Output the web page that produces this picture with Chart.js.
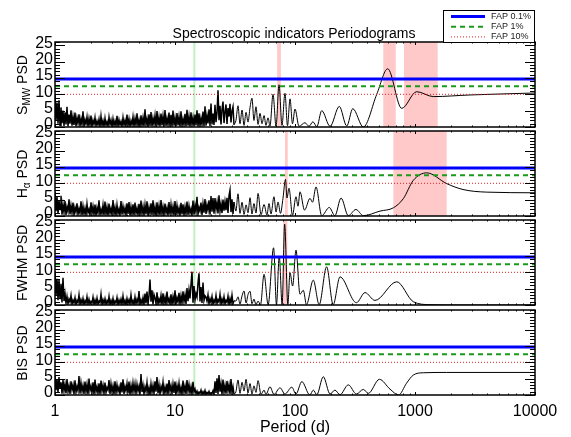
<!DOCTYPE html>
<html>
<head>
<meta charset="utf-8">
<script src="https://cdn.jsdelivr.net/npm/chart.js@4/dist/chart.umd.min.js"></script>
<style>
  body { margin: 0; background: #fff; }
  #wrap { position: relative; width: 571px; height: 437px; font-family: "Liberation Sans", Arial, sans-serif; color: #000; }
  #wrap canvas { position: absolute; left: 0; top: 0; }
  .txt { position: absolute; white-space: nowrap; text-align: center; }
  #title { left: 144px; width: 300px; top: 26px; font-size: 14px; line-height: 14px; }
  #xlab { left: 195px; width: 200px; top: 419px; font-size: 16px; line-height: 16px; }
  .ylab { width: 120px; height: 16px; font-size: 14px; line-height: 16px; left: -38px; transform: rotate(-90deg); }
  .ylab sub { font-size: 10px; vertical-align: -3px; line-height: 0; }
</style>
</head>
<body>
<div id="wrap">
  <canvas id="pSmw" width="571" height="437"></canvas>
  <canvas id="pHa" width="571" height="437"></canvas>
  <canvas id="pFwhm" width="571" height="437"></canvas>
  <canvas id="pBis" width="571" height="437"></canvas>
  <div id="title" class="txt">Spectroscopic indicators Periodograms</div>
  <div class="txt ylab" style="top:77px">S<sub>MW</sub> PSD</div>
  <div class="txt ylab" style="top:166px">H<sub>α</sub> PSD</div>
  <div class="txt ylab" style="top:255px">FWHM PSD</div>
  <div class="txt ylab" style="top:345px">BIS PSD</div>
  <div id="xlab" class="txt">Period (d)</div>
</div>
<script>
// false alarm probability levels (PSD units)
const fapNames = ['FAP 0.1%', 'FAP 1%', 'FAP 10%'];
const fapLevels = [14.7, 12.5, 10.0];

const yTicks = [0, 5, 10, 15, 20, 25];
const xTickLabels = [1, 10, 100, 1000, 10000];

// short-period part of each periodogram, sampled every 1/120 dex from 1 d
const noiseStepDex = 1 / 120;

const smwNoise = [
  9.8,2,7.5,1,8.2,0.5,6,1.2,5,0.3, 4.5,0.8,6.2,0.2,3.8,1,5.1,0.4,3.2,0.6,
  4.4,0.2,2.8,1.1,3.9,0.3,2.5,0.7,4.8,0.1, 2.2,0.9,3.1,0.2,2.6,0.5,3.5,0.1,2,0.8,
  2.9,0.3,1.8,0.6,2.4,0.1,3.3,0.4,1.9,0.2, 2.7,0.5,1.6,0.2,3,0.7,2.1,0.1,2.5,0.4,
  1.8,0.3,3.4,0.2,2.2,0.6,1.7,0.1,2.9,0.5, 2,0.2,3.8,0.4,2.4,0.1,1.9,0.6,3.1,0.2,
  2.6,0.5,4.2,0.3,2.1,0.1,3.6,0.4,2.8,0.2, 5.4,0.6,2.5,0.1,3.9,0.3,4.6,0.2,2.7,0.8,
  3.5,0.1,4.9,0.4,2.9,0.2,4.1,0.5,3.3,0.1, 5.2,0.3,2.6,0.6,4.4,0.2,3.7,0.1,5,0.4,
  2.8,0.2,4.3,0.5,3.1,0.1,4.8,0.3,2.4,0.6, 4,0.2,5.3,0.4,3.2,0.1,4.5,0.6,2.9,0.2,
  3.8,0.5,5.1,0.1,4.2,0.3,2.7,0.7,4.7,0.2, 6.3,0.4,3.5,1.1,5.4,0.3,7.2,0.8,4.1,0.6,
  6.8,1.5,4.3,11.2,2.1,6.5,0.8,5.3,7.8,1.2, 4.6,6.9,0.9,5.8,3.2,7.1,1.4,4.9,6.2,0.7
];
const haNoise = [
  7.4,1.5,5.8,0.6,4.9,2,6.2,0.4,3.5,1.1, 4.6,0.3,2.8,1.4,5.1,0.5,3.2,0.9,4.1,0.2,
  2.6,1.2,3.9,0.4,2.2,0.8,4.5,0.2,3,0.6, 2.4,0.3,3.7,1,2.1,0.2,4.2,0.7,2.9,0.4,
  3.5,0.1,2.5,0.9,4.8,0.3,2,0.6,3.3,0.2, 4.4,0.5,2.7,0.1,3.8,0.8,2.3,0.3,4.9,0.5,
  2.6,0.2,3.4,0.7,2.1,0.1,4.6,0.4,3,0.9, 2.5,0.2,3.9,0.6,4.3,0.1,2.8,0.5,3.6,0.2,
  4.1,0.8,2.4,0.3,3.7,0.1,4.7,0.6,2.9,0.2, 3.4,0.5,4.5,0.1,2.6,0.7,3.9,0.3,4.8,0.4,
  2.7,0.1,4.2,0.6,3.1,0.2,4.9,0.5,2.8,0.3, 3.8,0.9,2.5,0.1,4.3,0.4,3.5,0.7,2.9,0.2,
  4.6,0.3,3.2,0.8,2.4,0.1,4,0.5,3.6,0.2, 2.8,0.6,4.4,0.3,3.1,0.9,2.2,0.1,4.7,0.4,
  3.3,1.2,5.9,0.5,2.6,1.5,4.1,0.3,3.7,1, 5.2,0.6,3.4,1.8,4.8,0.4,6.1,1.3,5.5,0.7,
  5.5,2,4.2,0.8,6.3,1.5,3.7,0.9,5,1.6, 4.4,1.8,5.6,0.9,6.2,7.9,1.2,5.1,0.6,4.3
];
const fwhmNoise = [
  10.3,3,8,1.5,7.8,2,6.5,0.8,8.3,1.2, 3.5,0.5,2.6,0.3,1.8,0.9,2.9,0.2,1.5,0.6,
  2.2,0.1,1.4,0.7,3.1,0.2,1.6,0.4,2,0.1, 1.3,0.5,2.5,0.2,1.7,0.3,1.1,0.6,2.4,0.1,
  1.5,0.3,2.1,0.2,1.2,0.7,3.3,0.1,1.6,0.4, 1.9,0.2,1.3,0.5,2.6,0.1,1.4,0.3,2,0.2,
  1.2,0.6,2.3,0.1,1.5,0.4,1.8,0.2,2.7,0.3, 1.4,0.1,2,0.5,1.6,0.2,3,0.4,1.3,0.1,
  2.4,0.3,1.7,0.6,4.3,0.2,1.5,0.4,2.2,0.1, 3.5,0.5,4.1,0.3,2.8,7.8,1,4.5,0.2,3.2,
  2.1,0.4,3.9,0.2,1.8,0.7,2.9,0.1,3.6,0.5, 2.3,0.2,4.1,0.8,1.9,0.3,3.3,0.1,2.5,0.6,
  4.5,0.4,2.2,0.9,3.7,0.2,2.8,0.5,4.2,1, 3.1,0.3,5.2,1.2,4.6,2,6.3,10.2,0.7,5.8,
  1.5,3.5,2.4,6.8,9.7,1.1,5.5,0.6,6.9,1.4, 2.8,2.4,1.2,3.1,0.3,1.9,0.8,2.6,0.2,1.5,
  0.7,2.9,0.4,1.6,0.9,3.2,0.2,1.8,0.6,2.5, 0.3,1.4,0.8,2.7,0.1,1.9,0.5,3,0.4,1.3
];
const bisNoise = [
  6.1,1.5,4.8,0.7,5.5,2.1,3.9,0.4,4.6,1.2, 3.3,0.5,4.9,1,2.8,0.3,4.2,1.6,3.1,0.2,
  4.5,0.8,2.6,1.3,5.8,0.4,3.7,1.1,2.9,0.3, 4.1,0.9,3.2,0.2,5,1.4,2.7,0.6,3.9,0.1,
  4.7,1,2.5,0.5,3.6,0.2,4.4,1.2,3,0.4, 3.8,0.7,2.3,1.5,4.6,0.3,3.4,0.9,2.8,0.2,
  4.2,0.6,3.1,1.1,2.4,0.2,3.9,0.8,4.8,0.3, 2.6,1.3,3.5,0.5,4.1,0.1,2.9,0.7,3.7,1,
  3.4,0.4,3.3,1.2,2.7,0.2,6.4,0.9,3,0.3, 2.5,1.1,3.8,0.6,2.2,0.1,3.4,0.8,2.9,0.4,
  4.2,1,5.5,0.5,3.1,0.2,2.6,1.3,3.9,0.3, 2.4,0.7,3.5,0.1,4.6,1.2,2.8,0.4,3.3,0.6,
  4.1,0.2,2.9,1,3.6,0.5,2.3,0.2,4.4,0.8, 2.7,0.3,4.6,1.1,3.2,0.6,2.5,0.2,4,0.9,
  1.8,0.4,1.2,0.1,0.9,0.5,1.5,0.2,1,0.3, 1.4,0.1,0.8,0.4,1.1,0.2,0.7,0.5,1.3,0.1,
  4.2,0.6,5.1,0.3,6.1,1,3.4,0.2,4.7,0.8, 2.9,0.4,4.3,1.2,3.1,0.3,4.9,0.6,2.5,0.2
];

// long-period part: [period (d), PSD]
const smwTail = [
  [32.2,2],[33.5,6.5],[34.8,1],[36.2,5.2],[37.6,0.5],[39.1,4.5],[40.6,1.5],[42.2,6],[43.8,8.8],
  [45.5,2],[47.3,6.2],[49.2,0.8],[51.1,4.2],[53.1,1],[55.2,3.5],[57.3,0.5],[59.6,2.8],[61.9,0.3],
  [65.6,10],[69.5,0.2],[73.6,12.9],[77.9,0.5],[82.5,10.3],[86.6,0.4],[90.9,8.6],[95.3,1],[100,5.5],
  [108,0.2],[121,1.3],[131,0.2],[141,1.6],[152,0.1],[167,5],[196,0.2],[234,6.3],[270,0.3],[303,5.6],
  [371,0],[480,10],[592,17.8],[775,5.7],[1033,10.8],[1421,9.3],[2872,9.8],[10000,10.4]
];
const haTail = [
  [32.2,1.5],[33.5,6.8],[34.8,0.8],[36.2,4.2],[37.6,0.5],[39.1,3.4],[40.6,1],[42.2,5.6],[43.8,0.6],
  [45.5,3.8],[47.3,0.9],[49.2,6.9],[52.1,0.4],[55.2,3.5],[58.4,0.3],[60.7,3.8],[63.1,0.6],[66.8,5.9],
  [69.5,1.2],[72.2,4.3],[75.7,0.8],[79.4,5.4],[83.3,11.2],[85.8,5.5],[89.1,8.5],[95.3,0.2],[101.9,5.9],
  [105.9,3],[110.1,7.4],[120,1.8],[133.4,5.4],[139.9,4.2],[149.6,8.9],[167,0.1],[193,2.6],[215,0.1],
  [242,5.5],[278,0.1],[322,2],[371,0.1],[511,1.5],[660,2.5],[799,5.3],[968,10.9],[1252,13.2],
  [1838,9.9],[2512,8.1],[3959,7.3],[10000,7.1]
];
const fwhmTail = [
  [32.2,1.2],[33.5,2.5],[34.8,0.3],[36.2,2.8],[37.6,4.3],[39.1,0.6],[40.6,3.2],[42.2,4.2],[43.8,0.4],
  [45.5,1.8],[47.3,0.1],[49.2,1.2],[51.6,0.1],[55.2,9.4],[59.7,0.1],[66.3,17.5],[70.1,0.1],[73.9,15],
  [78.1,0.1],[82,24.7],[87.2,0.1],[90.8,9.9],[95.6,5.8],[101.9,16.8],[110,3.3],[117.3,4.5],[124.6,0.1],
  [142,7.6],[159,0.1],[183.4,11.7],[208,0.1],[237,8.6],[325,0.7],[383,3.8],[464,1.4],[704,7.1],
  [968,1],[1333,0.1],[2371,0],[10000,0]
];
const bisTail = [
  [32.2,1],[33.5,4.6],[34.8,0.5],[36.2,3.9],[37.6,1.2],[39.1,4.8],[40.6,0.6],[42.2,3.5],[43.8,0.3],
  [45.5,2.8],[47.3,0.8],[49.2,4.4],[52.1,0.2],[55.2,1.5],[57.3,0.2],[61.9,2.5],[66.8,0.2],[75,2.2],
  [82.5,0.3],[94,2.4],[101.9,0.3],[114,4.1],[133,0],[142,1.5],[152,0.1],[172,5.6],[196,0.3],[215,1.5],
  [237,0.1],[278,3.1],[325,0.3],[371,1.7],[408,0.5],[505,4.8],[619,1.8],[730,0],[850,3.6],[968,6.1],
  [1173,6.8],[1838,6.9],[10000,6.9]
];

// period ranges highlighted in each panel
const smwBands = [[71, 76.3], [544, 691], [810, 1545]];
const haBands = [[82.5, 87], [660, 1837]];
const fwhmBands = [[79.4, 86.3]];
const bisBands = [];

// period marked with the vertical line
const markPeriod = 14.5;

const FONT = '"Liberation Sans", Arial, sans-serif';
const PLOT_LEFT = 55, PLOT_RIGHT = 535, X_AXIS_H = 42;

function noisePoints(noise) {
  return noise.map((v, i) => ({ x: Math.pow(10, i * noiseStepDex), y: v }));
}

function tailPoints(noise, tail) {
  // start from the last noise sample so the two pieces join
  const last = noisePoints(noise).pop();
  return [last].concat(tail.map(([p, v]) => ({ x: p, y: v })));
}

function fapDataset(level, color, width, dash) {
  return {
    data: [{ x: 1, y: level }, { x: 10000, y: level }],
    borderColor: color, borderWidth: width, borderDash: dash,
    pointRadius: 0, fill: false
  };
}

// pink period bands and the green marker, behind the curves
const bandPlugin = {
  id: 'bands',
  beforeDatasetsDraw(chart, args, opts) {
    const { ctx, chartArea: a, scales: { x } } = chart;
    ctx.save();
    ctx.fillStyle = '#ffc9c9';
    opts.ranges.forEach(([p0, p1]) => {
      const x0 = x.getPixelForValue(p0), x1 = x.getPixelForValue(p1);
      ctx.fillRect(x0, a.top, x1 - x0, a.bottom - a.top);
    });
    const mx = x.getPixelForValue(markPeriod);
    ctx.strokeStyle = '#bff2bf';
    ctx.lineWidth = 2;
    ctx.beginPath();
    ctx.moveTo(mx, a.top);
    ctx.lineTo(mx, a.bottom);
    ctx.stroke();
    ctx.restore();
  }
};

// box with inward ticks on all four sides
const framePlugin = {
  id: 'frame',
  afterDatasetsDraw(chart) {
    const { ctx, chartArea: a, scales: { x, y } } = chart;
    ctx.save();
    ctx.strokeStyle = '#000';
    ctx.lineWidth = 1;
    ctx.beginPath();
    for (let v = 0; v <= 26; v++) {
      const py = Math.round(y.getPixelForValue(v)) + 0.5;
      const len = v % 5 === 0 ? 10 : 5;
      ctx.moveTo(a.left, py); ctx.lineTo(a.left + len, py);
      ctx.moveTo(a.right, py); ctx.lineTo(a.right - len, py);
    }
    for (let d = 1; d < 10000; d *= 10) {
      for (let m = 1; m <= 10; m++) {
        const px = Math.round(x.getPixelForValue(d * m)) + 0.5;
        const len = (m === 1 || m === 10) ? 3 : 1.5;
        ctx.moveTo(px, a.top); ctx.lineTo(px, a.top + len);
        ctx.moveTo(px, a.bottom); ctx.lineTo(px, a.bottom - len);
      }
    }
    ctx.stroke();
    ctx.lineWidth = 1.5;
    ctx.strokeRect(a.left, a.top, a.right - a.left, a.bottom - a.top);
    ctx.restore();
  }
};

// FAP key in the top right corner
const legendPlugin = {
  id: 'fapKey',
  afterDraw(chart) {
    const ctx = chart.ctx;
    const l = 443, t = 10, r = 534, b = 42;
    ctx.save();
    ctx.fillStyle = '#fff';
    ctx.fillRect(l, t, r - l, b - t);
    ctx.strokeStyle = '#000';
    ctx.lineWidth = 1;
    ctx.strokeRect(l + 0.5, t + 0.5, r - l, b - t);
    ctx.font = '9px ' + FONT;
    ctx.textBaseline = 'middle';
    fapNames.forEach((name, i) => {
      const ds = chart.data.datasets[i];
      const yy = 16.5 + i * 10.2;
      ctx.strokeStyle = ds.borderColor;
      ctx.lineWidth = ds.borderWidth;
      ctx.setLineDash(ds.borderDash);
      ctx.beginPath();
      ctx.moveTo(451, yy);
      ctx.lineTo(485, yy);
      ctx.stroke();
      ctx.setLineDash([]);
      ctx.fillStyle = '#222';
      ctx.fillText(name, 491, yy);
    });
    ctx.restore();
  }
};

function makePanel(id, top, bottom, noise, tail, bands, showX, extra) {
  new Chart(document.getElementById(id), {
    type: 'line',
    data: {
      datasets: [
        fapDataset(fapLevels[0], '#0000ff', 3, []),
        fapDataset(fapLevels[1], '#1a9a1a', 2, [5, 4]),
        fapDataset(fapLevels[2], '#e02020', 1, [1, 2]),
        // dense short-period noise: straight segments
        { data: noisePoints(noise), borderColor: '#000', borderWidth: 1.5, pointRadius: 0, tension: 0, fill: false },
        // resolved long-period peaks: smooth
        {
          data: tailPoints(noise, tail), borderColor: '#000', borderWidth: 1, pointRadius: 0,
          cubicInterpolationMode: 'monotone', fill: false
        }
      ]
    },
    options: {
      responsive: false,
      animation: false,
      events: [],
      layout: {
        padding: { top: top, left: 0, right: 571 - PLOT_RIGHT, bottom: 437 - bottom - (showX ? X_AXIS_H : 0) }
      },
      scales: {
        x: {
          type: 'logarithmic', min: 1, max: 10000, display: showX,
          afterFit: s => { s.height = showX ? X_AXIS_H : 0; },
          grid: { display: false, drawTicks: false },
          border: { display: false },
          ticks: {
            autoSkip: false, maxRotation: 0, padding: 7, color: '#000',
            font: { size: 16, family: FONT },
            callback: v => xTickLabels.includes(v) ? String(v) : ''
          }
        },
        y: {
          min: 0, max: 26,
          afterFit: s => { s.width = PLOT_LEFT; },
          afterBuildTicks: s => { s.ticks = yTicks.map(v => ({ value: v })); },
          grid: { display: false, drawTicks: false },
          border: { display: false },
          ticks: { autoSkip: false, padding: 2, color: '#000', labelOffset: -2, font: { size: 16, family: FONT } }
        }
      },
      plugins: {
        legend: { display: false },
        tooltip: { enabled: false },
        bands: { ranges: bands }
      }
    },
    plugins: [bandPlugin, framePlugin].concat(extra || [])
  });
}

makePanel('pSmw', 42, 127, smwNoise, smwTail, smwBands, false, [legendPlugin]);
makePanel('pHa', 131, 216, haNoise, haTail, haBands, false);
makePanel('pFwhm', 220, 305, fwhmNoise, fwhmTail, fwhmBands, false);
makePanel('pBis', 310, 395, bisNoise, bisTail, bisBands, true);
</script>
</body>
</html>
